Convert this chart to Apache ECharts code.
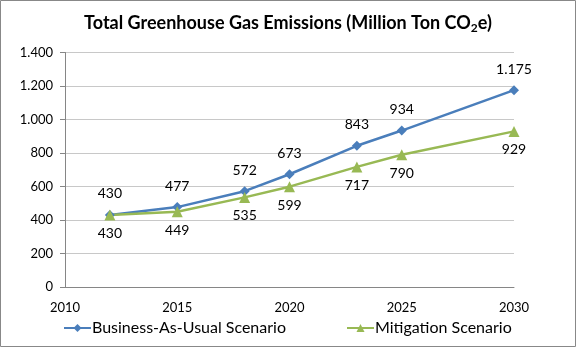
<!DOCTYPE html>
<html><head><meta charset="utf-8">
<script src="https://cdn.jsdelivr.net/npm/echarts@6/dist/echarts.min.js"></script>
<style>html,body{margin:0;padding:0;background:#fff}#c{width:576px;height:347px}</style>
</head><body><div id="c"></div>
<script>
const years = [2012, 2015, 2018, 2020, 2023, 2025, 2030];
const bau = [430, 477, 572, 673, 843, 934, 1175];
const mitigation = [430, 449, 535, 599, 717, 790, 929];
const seriesNames = ['Business-As-Usual Scenario', 'Mitigation Scenario'];
const fmt = v => String(v).replace(/\B(?=(\d{3})+(?!\d))/g, '.');
const font = 'Lato, "Open Sans", sans-serif';
const chart = echarts.init(document.getElementById('c'));
chart.setOption({
  animation: false,
  textStyle: {fontFamily: font},
  title: {
    text: '{t|Total Greenhouse Gas Emissions (Million Ton CO}{s|2}{t|e)}',
    left: 'center', top: 8,
    textStyle: {rich: {
      t: {fontFamily: font, fontWeight: 'bold', fontSize: 18, color: '#000'},
      s: {fontFamily: font, fontWeight: 'bold', fontSize: 12, color: '#000', verticalAlign: 'bottom', padding: [9,0,0,0]}
    }}
  },
  graphic: [{type: 'rect', shape: {x: 0.5, y: 0.5, width: 575, height: 346}, style: {fill: 'none', stroke: '#888', lineWidth: 1}, silent: true}],
  grid: {left: 65, right: 62, top: 52.5, bottom: 60},
  legend: {
    bottom: 6, left: 58, itemGap: 60, itemWidth: 27, itemHeight: 10,
    textStyle: {fontFamily: font, fontSize: 16, color: '#000', padding: [0,0,0,-4]},
    data: seriesNames
  },
  xAxis: {
    type: 'value', min: 2010, max: 2030, interval: 5,
    axisLine: {show: true, lineStyle: {color: '#868686'}},
    axisTick: {show: false},
    splitLine: {show: false},
    axisLabel: {color: '#000', fontSize: 13, fontFamily: font, margin: 14, formatter: v => String(v)}
  },
  yAxis: {
    type: 'value', min: 0, max: 1400, interval: 200,
    axisLine: {show: true, lineStyle: {color: '#868686'}},
    splitLine: {lineStyle: {color: '#c8c8c8'}},
    axisLabel: {color: '#000', fontSize: 13, fontFamily: font, margin: 12, formatter: fmt}
  },
  series: [
    {name: seriesNames[0], type: 'line', data: years.map((y,i)=>[y,bau[i]]),
     symbol: 'diamond', symbolSize: 10, itemStyle: {color: '#4A7EBB'}, lineStyle: {width: 2.5, color: '#4A7EBB'},
     label: {show: true, position: 'top', distance: 9, color: '#000', fontSize: 14, fontFamily: font, formatter: p => fmt(p.value[1])}},
    {name: seriesNames[1], type: 'line', data: years.map((y,i)=>[y,mitigation[i]]),
     symbol: 'triangle', symbolSize: 11, itemStyle: {color: '#98B954'}, lineStyle: {width: 2.5, color: '#98B954'},
     label: {show: true, position: 'bottom', distance: 6, color: '#000', fontSize: 14, fontFamily: font, formatter: p => fmt(p.value[1])}}
  ]
});
</script></body></html>
